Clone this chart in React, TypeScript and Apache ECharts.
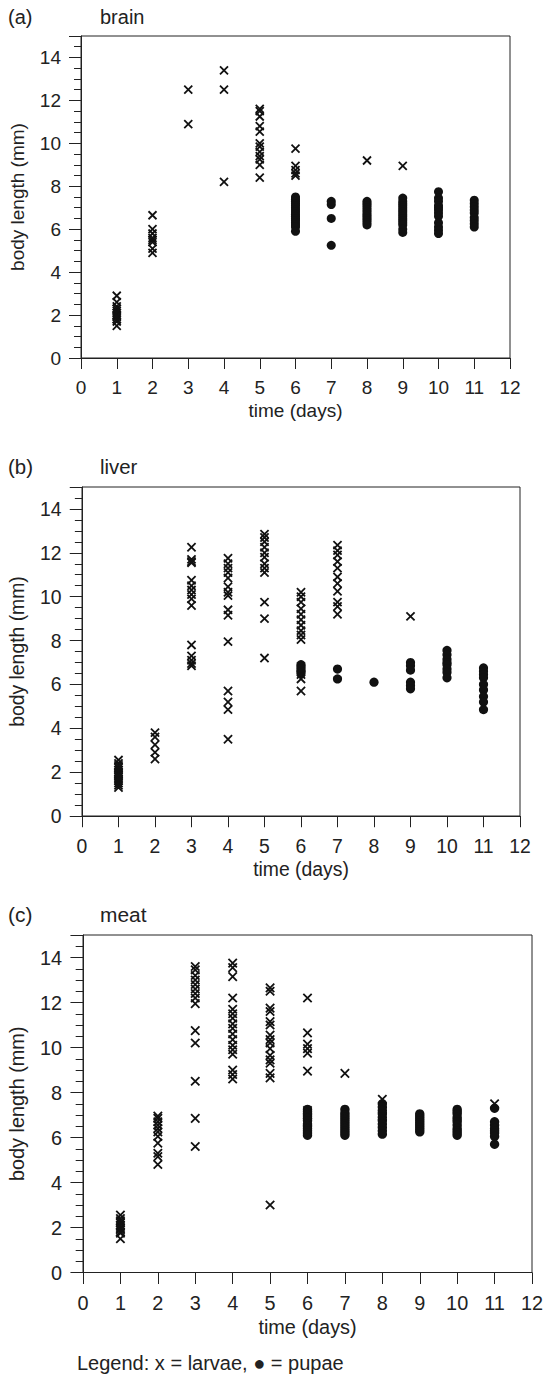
import { useEffect, useRef } from "react";
import * as echarts from "echarts";

// x-axis categories (days); each data array below is indexed by day-1
const days = [1, 2, 3, 4, 5, 6, 7, 8, 9, 10, 11];
const xTicks = [0, 1, 2, 3, 4, 5, 6, 7, 8, 9, 10, 11, 12];
const yTickLabels = [0, 2, 4, 6, 8, 10, 12, 14];

const brainLarvae: number[][] = [
  [2.9, 2.6, 2.4, 2.3, 2.2, 2.1, 2.0, 1.95, 1.9, 1.8, 1.7, 1.5],
  [6.65, 6.0, 5.8, 5.6, 5.5, 5.4, 5.1, 4.9],
  [12.5, 10.9],
  [13.4, 12.5, 8.2],
  [11.6, 11.5, 11.25, 10.8, 10.55, 10.0, 9.85, 9.6, 9.4, 9.25, 9.0, 8.4],
  [9.75, 8.95, 8.75, 8.6, 8.5],
  [],
  [9.2],
  [8.95],
  [],
  [],
];
const brainPupae: number[][] = [
  [], [], [], [], [],
  [7.5, 7.4, 7.3, 7.2, 7.1, 7.0, 6.9, 6.8, 6.7, 6.6, 6.5, 6.4, 6.3, 6.2, 6.1, 5.9],
  [7.3, 7.15, 6.5, 5.25],
  [7.3, 7.2, 7.1, 7.0, 6.9, 6.8, 6.7, 6.6, 6.5, 6.4, 6.3, 6.2],
  [7.45, 7.3, 7.2, 7.1, 7.0, 6.9, 6.8, 6.7, 6.6, 6.5, 6.4, 6.3, 6.2, 6.0, 5.85],
  [7.75, 7.45, 7.3, 7.1, 7.0, 6.9, 6.75, 6.6, 6.3, 6.1, 5.95, 5.8],
  [7.35, 7.2, 7.05, 6.9, 6.75, 6.55, 6.4, 6.25, 6.1],
];

const liverLarvae: number[][] = [
  [2.55, 2.4, 2.3, 2.2, 2.1, 2.0, 1.95, 1.9, 1.85, 1.8, 1.7, 1.6, 1.5, 1.4, 1.3],
  [3.8, 3.6, 3.25, 2.9, 2.6],
  [12.25, 11.7, 11.6, 11.55, 10.75, 10.5, 10.3, 10.1, 9.9, 9.6, 7.8, 7.3, 7.1, 6.95, 6.85],
  [11.75, 11.5, 11.3, 11.1, 10.85, 10.45, 10.2, 10.05, 9.4, 9.15, 7.95, 5.7, 5.2, 4.85, 3.5],
  [12.85, 12.7, 12.5, 12.25, 12.0, 11.8, 11.5, 11.3, 11.1, 9.75, 9.0, 7.2],
  [10.2, 10.0, 9.75, 9.45, 9.2, 8.95, 8.7, 8.45, 8.25, 8.05, 6.45, 6.25, 5.7],
  [12.35, 12.1, 11.9, 11.6, 11.3, 10.9, 10.6, 10.25, 9.75, 9.55, 9.2],
  [],
  [9.1],
  [],
  [],
];
const liverPupae: number[][] = [
  [], [], [], [], [],
  [6.9, 6.8, 6.7, 6.6, 6.5],
  [6.7, 6.25],
  [6.1],
  [7.0, 6.85, 6.65, 6.1, 5.95, 5.8],
  [7.55, 7.35, 7.15, 7.0, 6.9, 6.7, 6.55, 6.3],
  [6.75, 6.6, 6.45, 6.3, 6.0, 5.75, 5.45, 5.2, 4.85],
];

const meatLarvae: number[][] = [
  [2.55, 2.4, 2.3, 2.2, 2.1, 2.0, 1.95, 1.9, 1.8, 1.75, 1.5],
  [6.95, 6.85, 6.7, 6.55, 6.4, 6.25, 6.05, 5.75, 5.3, 5.15, 4.8],
  [13.6, 13.45, 13.2, 13.0, 12.8, 12.6, 12.4, 12.2, 11.95, 10.75, 10.2, 8.5, 6.85, 5.6],
  [13.75, 13.55, 13.15, 12.2, 11.7, 11.5, 11.3, 11.05, 10.85, 10.6, 10.35, 10.1, 9.9, 9.7, 9.0, 8.8, 8.6],
  [12.65, 12.5, 11.75, 11.6, 11.15, 11.0, 10.55, 10.35, 10.2, 9.95, 9.65, 9.45, 9.3, 8.85, 8.65, 3.0],
  [12.2, 10.65, 10.15, 9.95, 9.75, 8.95, 7.2, 6.7],
  [8.85],
  [7.7, 6.95],
  [],
  [],
  [7.5],
];
const meatPupae: number[][] = [
  [], [], [], [], [],
  [7.25, 7.15, 7.05, 6.95, 6.85, 6.75, 6.6, 6.5, 6.4, 6.3, 6.2, 6.1],
  [7.25, 7.1, 7.0, 6.9, 6.8, 6.7, 6.6, 6.5, 6.4, 6.3, 6.2, 6.1],
  [7.5, 7.35, 7.2, 7.05, 6.9, 6.75, 6.6, 6.45, 6.3, 6.15],
  [7.05, 6.95, 6.85, 6.75, 6.65, 6.55, 6.45, 6.35, 6.25],
  [7.25, 7.15, 7.05, 6.9, 6.8, 6.7, 6.55, 6.4, 6.3, 6.2, 6.1],
  [7.3, 6.7, 6.55, 6.4, 6.3, 6.2, 6.05, 5.7],
];

const panelLetters = ["(a)", "(b)", "(c)"];
const panelNames = ["brain", "liver", "meat"];
const xName = "time (days)";
const yName = "body length (mm)";
const legendText = "Legend: x = larvae, \u25CF = pupae";

const INK = "#222";
const MARK = "#111";
const FONT = "'Liberation Sans', Arial, Helvetica, sans-serif";
const CROSS = "path://M0,0L10,10M10,0L0,10";

function toPoints(byDay: number[][]) {
  const pts: number[][] = [];
  days.forEach((d, i) => (byDay[i] || []).forEach((v) => pts.push([d, v])));
  return pts;
}

export default function App() {
  const ref = useRef<HTMLDivElement>(null);
  useEffect(() => {
    document.body.style.margin = "0";
    if (!ref.current) return;
    const chart = echarts.init(ref.current, undefined, { renderer: "svg" });

    const layouts = [
      { left: 81, top: 36, width: 429, height: 322, s: 1.0 },
      { left: 82, top: 487, width: 438, height: 329, s: 1.02 },
      { left: 83, top: 935, width: 449, height: 337.5, s: 1.046 },
    ];
    const data = [
      [brainLarvae, brainPupae],
      [liverLarvae, liverPupae],
      [meatLarvae, meatPupae],
    ];

    const grid: any[] = [];
    const xAxis: any[] = [];
    const yAxis: any[] = [];
    const series: any[] = [];
    const graphic: any[] = [];

    layouts.forEach((L, i) => {
      const s = L.s;
      const fs = 19 * s;
      grid.push({
        left: L.left,
        top: L.top,
        width: L.width,
        height: L.height,
        show: true,
        borderColor: INK,
        borderWidth: 1,
        backgroundColor: "transparent",
        containLabel: false,
        outerBoundsMode: "none",
      });
      xAxis.push({
        gridIndex: i,
        type: "value",
        min: xTicks[0],
        max: xTicks[xTicks.length - 1],
        interval: 1,
        name: xName,
        nameLocation: "middle",
        nameGap: 43 * s,
        nameTextStyle: { fontSize: fs, color: INK, fontFamily: FONT },
        axisLine: { onZero: false, lineStyle: { color: INK, width: 1 } },
        axisTick: { length: 11 * s, lineStyle: { color: INK, width: 1 } },
        axisLabel: { margin: 20 * s, fontSize: fs, color: INK, fontFamily: FONT },
        splitLine: { show: false },
      });
      yAxis.push({
        gridIndex: i,
        type: "value",
        position: "left",
        min: 0,
        max: 15,
        interval: 2,
        name: yName,
        nameLocation: "middle",
        nameGap: 54 * s,
        nameTextStyle: { fontSize: fs, color: INK, fontFamily: FONT },
        axisLine: { onZero: false, lineStyle: { color: INK, width: 1 } },
        axisTick: { length: 12 * s, lineStyle: { color: INK, width: 1 } },
        axisLabel: {
          margin: 20 * s,
          fontSize: fs,
          color: INK,
          fontFamily: FONT,
          formatter: (v: number) => (yTickLabels.includes(v) ? String(v) : ""),
        },
        splitLine: { show: false },
      });
      yAxis.push({
        gridIndex: i,
        type: "value",
        position: "left",
        min: 0,
        max: 15,
        interval: 0.5,
        axisLine: { show: false },
        axisTick: { length: 7 * s, lineStyle: { color: INK, width: 1 } },
        axisLabel: { show: false },
        splitLine: { show: false },
      });
      series.push({
        type: "scatter",
        xAxisIndex: i,
        yAxisIndex: i * 2,
        data: toPoints(data[i][1]),
        symbol: "circle",
        symbolSize: 9 * s,
        itemStyle: { color: MARK, opacity: 1 },
        z: 3,
      });
      series.push({
        type: "scatter",
        xAxisIndex: i,
        yAxisIndex: i * 2,
        data: toPoints(data[i][0]),
        symbol: CROSS,
        symbolSize: 8 * s,
        symbolKeepAspect: true,
        itemStyle: {
          color: "rgba(0,0,0,0)",
          borderColor: MARK,
          borderWidth: 1.8,
          opacity: 1,
        },
        z: 4,
      });
      const titleY = L.top - 19 * s;
      graphic.push({
        type: "text",
        left: 8,
        top: titleY - 10.5 * s,
        style: { text: panelLetters[i], fontSize: 20 * s, fill: INK, fontFamily: FONT },
      });
      graphic.push({
        type: "text",
        left: 100,
        top: titleY - 10.5 * s,
        style: { text: panelNames[i], fontSize: 20 * s, fill: INK, fontFamily: FONT },
      });
    });

    graphic.push({
      type: "text",
      left: 77,
      top: 1353,
      style: { text: legendText, fontSize: 20, fill: INK, fontFamily: FONT },
    });

    chart.setOption({
      animation: false,
      backgroundColor: "#fff",
      grid,
      xAxis,
      yAxis,
      series,
      graphic,
    });
    return () => chart.dispose();
  }, []);
  return <div ref={ref} style={{ width: 544, height: 1376 }} />;
}
